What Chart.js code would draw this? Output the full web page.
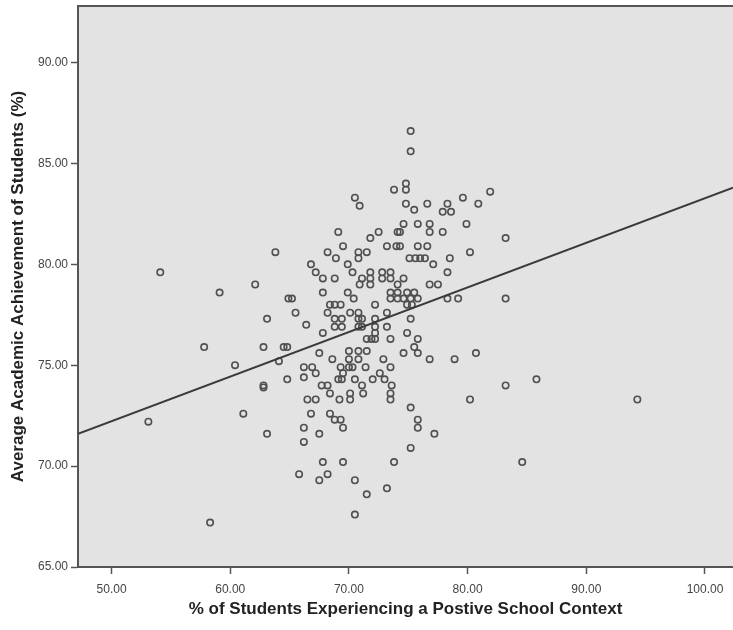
<!DOCTYPE html>
<html>
<head>
<meta charset="utf-8">
<title>School context vs achievement</title>
<script src="https://cdn.jsdelivr.net/npm/chart.js@4.4.1/dist/chart.umd.min.js"></script>
<style>
    html, body { margin: 0; padding: 0; background: #fff; overflow: hidden; }
    #chartBox { width: 733px; height: 630px; }
</style>
</head>
<body>
<div id="chartBox"><canvas id="scatterChart" width="733" height="630"></canvas></div>
<script>
// % of students experiencing a positive school context (x) per school
const schoolContext = [
    63.8, 54.1, 59.1, 62.1, 64.9, 63.1, 57.8, 62.8, 64.5, 64.8, 64.1, 60.4, 64.8, 62.8, 62.8, 61.1, 53.1, 63.1, 58.3,
    73.8, 70.5, 70.9, 69.1, 72.5, 71.8, 69.5, 74.1, 68.2, 68.9, 70.8, 71.5, 70.8, 73.2, 74.0,
    75.2, 75.2, 74.8, 74.8, 81.9, 79.6, 74.8, 75.5, 76.6, 80.9, 78.3, 77.9, 78.6, 74.6, 75.8, 76.8, 76.8, 77.9, 79.9, 83.2,
    75.8, 76.6, 80.2, 78.5, 75.1, 75.6, 76.0, 76.4, 74.3, 74.3,
    66.8, 67.2, 67.8, 68.8, 69.9, 70.3, 71.1, 71.8, 71.8, 71.8, 72.8, 72.8, 73.5, 73.5, 70.9, 73.5, 73.5, 74.1, 74.1, 74.1,
    67.8, 69.9, 70.4, 68.4, 68.8, 69.3, 65.2, 65.5, 68.2, 68.8, 69.4, 68.8, 69.4, 70.1, 70.8, 70.8, 70.8, 71.1, 71.1,
    72.2, 72.2, 72.2, 72.2, 73.2, 73.2, 66.4, 67.8, 71.5, 71.9, 72.2, 73.5, 67.5, 70.0, 70.8, 71.5, 70.0, 70.8, 72.9,
    66.2, 66.9, 68.6, 69.3, 69.5, 70.0, 70.3, 71.4, 72.6, 73.5, 67.2, 66.2, 67.7, 68.2, 69.1, 69.4, 70.5, 72.0, 73.0, 73.6, 71.1,
    77.1, 78.3, 74.6, 76.8, 77.5, 74.9, 75.5, 74.6, 75.2, 75.8, 74.9, 75.3, 78.3, 79.2, 83.2, 75.2, 74.9, 75.8, 75.5, 74.6,
    75.8, 76.8, 78.9, 80.7, 83.2,
    68.4, 66.5, 67.2, 69.2, 70.1, 70.1, 71.2, 73.5, 73.5, 66.8, 68.4, 68.8, 69.3, 69.5, 66.2, 67.5, 66.2, 67.8, 69.5, 73.8,
    65.8, 67.5, 68.2, 70.5, 71.5, 73.2, 70.5,
    75.2, 75.8, 75.8, 77.2, 75.2, 80.2,
    85.8, 94.3, 84.6
];

// average academic achievement of students, % (y), same order
const achievement = [
    80.6, 79.6, 78.6, 79.0, 78.3, 77.3, 75.9, 75.9, 75.9, 75.9, 75.2, 75.0, 74.3, 74.0, 73.9, 72.6, 72.2, 71.6, 67.2,
    83.7, 83.3, 82.9, 81.6, 81.6, 81.3, 80.9, 81.6, 80.6, 80.3, 80.6, 80.6, 80.3, 80.9, 80.9,
    86.6, 85.6, 84.0, 83.7, 83.6, 83.3, 83.0, 82.7, 83.0, 83.0, 83.0, 82.6, 82.6, 82.0, 82.0, 82.0, 81.6, 81.6, 82.0, 81.3,
    80.9, 80.9, 80.6, 80.3, 80.3, 80.3, 80.3, 80.3, 81.6, 80.9,
    80.0, 79.6, 79.3, 79.3, 80.0, 79.6, 79.3, 79.6, 79.3, 79.0, 79.6, 79.3, 79.6, 79.3, 79.0, 78.6, 78.3, 79.0, 78.6, 78.3,
    78.6, 78.6, 78.3, 78.0, 78.0, 78.0, 78.3, 77.6, 77.6, 77.3, 77.3, 76.9, 76.9, 77.6, 77.6, 77.3, 76.9, 77.3, 76.9,
    78.0, 77.3, 76.9, 76.6, 77.6, 76.9, 77.0, 76.6, 76.3, 76.3, 76.3, 76.3, 75.6, 75.7, 75.7, 75.7, 75.3, 75.3, 75.3,
    74.9, 74.9, 75.3, 74.9, 74.6, 74.9, 74.9, 74.9, 74.6, 74.9, 74.6, 74.4, 74.0, 74.0, 74.3, 74.3, 74.3, 74.3, 74.3, 74.0, 74.0,
    80.0, 79.6, 79.3, 79.0, 79.0, 78.6, 78.6, 78.3, 78.3, 78.3, 78.0, 78.0, 78.3, 78.3, 78.3, 77.3, 76.6, 76.3, 75.9, 75.6,
    75.6, 75.3, 75.3, 75.6, 74.0,
    73.6, 73.3, 73.3, 73.3, 73.6, 73.3, 73.6, 73.6, 73.3, 72.6, 72.6, 72.3, 72.3, 71.9, 71.9, 71.6, 71.2, 70.2, 70.2, 70.2,
    69.6, 69.3, 69.6, 69.3, 68.6, 68.9, 67.6,
    72.9, 72.3, 71.9, 71.6, 70.9, 73.3,
    74.3, 73.3, 70.2
];

// fitted regression line, read at the left and right plot edges
const fitLineX = [47.17, 102.36];
const fitLineY = [71.6, 83.8];

const xTickValues = [50, 60, 70, 80, 90, 100];
const yTickValues = [65, 70, 75, 80, 85, 90];

const FONT = '"Liberation Sans", Arial, sans-serif';
const AXIS_COLOR = '#555';

document.addEventListener('DOMContentLoaded', function() {
    drawScatter();
});

// grey plot panel and the top frame line
const plotPanel = {
    id: 'plotPanel',
    beforeDraw(chart) {
        const { ctx, chartArea } = chart;
        ctx.save();
        ctx.fillStyle = '#e3e3e3';
        ctx.fillRect(chartArea.left, chartArea.top, chartArea.right - chartArea.left, chartArea.bottom - chartArea.top);
        ctx.strokeStyle = AXIS_COLOR;
        ctx.lineWidth = 2;
        ctx.beginPath();
        ctx.moveTo(chartArea.left, chartArea.top);
        ctx.lineTo(chartArea.right, chartArea.top);
        ctx.stroke();
        ctx.restore();
    }
};

function drawScatter() {
    const points = schoolContext.map((x, i) => ({ x: x, y: achievement[i] }));
    const fitPoints = fitLineX.map((x, i) => ({ x: x, y: fitLineY[i] }));

    new Chart(document.getElementById('scatterChart'), {
        type: 'scatter',
        data: {
            datasets: [{
                label: 'Schools',
                data: points,
                pointRadius: 3.2,
                pointBorderWidth: 1.6,
                pointBorderColor: '#505050',
                pointBackgroundColor: 'rgba(0,0,0,0)',
                order: 2
            }, {
                type: 'line',
                label: 'Fit',
                data: fitPoints,
                borderColor: '#3a3a3a',
                borderWidth: 2,
                pointRadius: 0,
                fill: false,
                order: 1
            }]
        },
        options: {
            responsive: false,
            animation: false,
            layout: {
                autoPadding: false,
                padding: { top: 6, left: 0, right: 0, bottom: 0 }
            },
            plugins: {
                legend: { display: false },
                tooltip: { enabled: false }
            },
            scales: {
                x: {
                    type: 'linear',
                    min: 47.17,
                    max: 102.36,
                    afterBuildTicks: function(scale) {
                        scale.ticks = xTickValues.map(v => ({ value: v }));
                    },
                    afterFit: function(scale) {
                        scale.height = 63;
                    },
                    grid: { drawOnChartArea: false, drawTicks: true, tickLength: 7, tickColor: AXIS_COLOR, tickWidth: 1.5 },
                    border: { display: true, color: AXIS_COLOR, width: 2 },
                    ticks: {
                        color: '#444',
                        font: { family: FONT, size: 12 },
                        padding: 8,
                        autoSkip: false,
                        maxRotation: 0,
                        callback: v => v.toFixed(2)
                    },
                    title: {
                        display: true,
                        text: '% of Students Experiencing a Postive School Context',
                        color: '#222',
                        font: { family: FONT, size: 17, weight: 'bold' },
                        padding: { top: 0, bottom: 10 }
                    }
                },
                y: {
                    type: 'linear',
                    min: 65,
                    max: 92.8,
                    afterBuildTicks: function(scale) {
                        scale.ticks = yTickValues.map(v => ({ value: v }));
                    },
                    afterFit: function(scale) {
                        // fixed axis width; labels sit well inside, so no extra edge padding
                        scale.width = 78;
                        scale.paddingTop = 0;
                        scale.paddingBottom = 0;
                    },
                    grid: { drawOnChartArea: false, drawTicks: true, tickLength: 7, tickColor: AXIS_COLOR, tickWidth: 1.5 },
                    border: { display: true, color: AXIS_COLOR, width: 2 },
                    ticks: {
                        color: '#444',
                        font: { family: FONT, size: 12 },
                        padding: 3,
                        autoSkip: false,
                        callback: v => v.toFixed(2)
                    },
                    title: {
                        display: true,
                        text: 'Average Academic Achievement of Students (%)',
                        color: '#222',
                        font: { family: FONT, size: 17, weight: 'bold' },
                        padding: { top: 8, bottom: 0 }
                    }
                }
            }
        },
        plugins: [plotPanel]
    });
}
</script>
</body>
</html>
